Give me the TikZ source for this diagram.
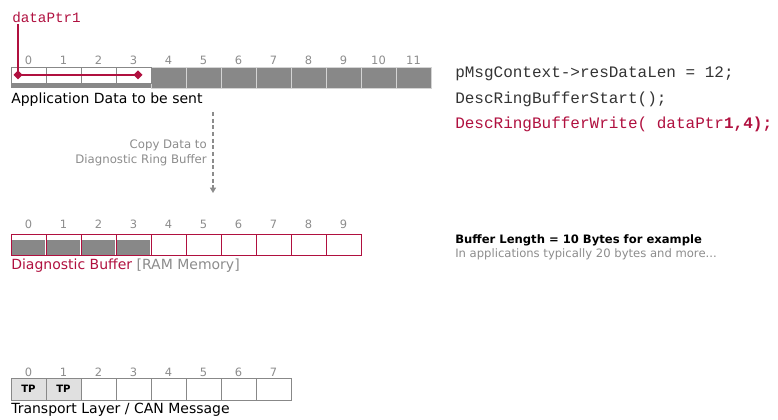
\documentclass[tikz,border=0pt]{standalone}
\usepackage{fontspec}
\setmainfont{DejaVu Sans}
\newfontfamily\codefont{Liberation Mono}
\usetikzlibrary{arrows.meta}
\definecolor{dred}{HTML}{B0103F}
\definecolor{txtgray}{HTML}{8C8C8C}
\definecolor{cellgray}{HTML}{888888}
\definecolor{sepgray}{HTML}{D4D4D4}
\definecolor{tpgray}{HTML}{E0E0E0}
\definecolor{codegray}{HTML}{333333}
\begin{document}
\begin{tikzpicture}[x=0.75pt,y=-0.75pt,
  num/.style={font=\fontsize{8.6}{9}\selectfont, text=txtgray, inner sep=0pt},
  cellbase/.style={rectangle, inner sep=0pt, outer sep=0pt, minimum width=26.25pt},
  gcell/.style={cellbase, minimum height=15.75pt, fill=cellgray, draw=sepgray, line width=0.6pt},
  wcell/.style={cellbase, minimum height=12pt, fill=white, draw=cellgray, line width=0.6pt},
  dcell/.style={cellbase, minimum height=15.75pt, fill=white, draw=dred, line width=0.75pt},
  tcell/.style={cellbase, minimum height=16.5pt, fill=white, draw=cellgray, line width=0.6pt, font=\bfseries\fontsize{7.6}{9}\selectfont},
  lbl/.style={font=\fontsize{10.5}{11}\selectfont, inner sep=0pt, anchor=west},
  code/.style={font=\codefont\fontsize{12}{13}\selectfont, inner sep=0pt, anchor=west},
  small/.style={font=\fontsize{8.7}{10}\selectfont, inner sep=0pt, anchor=west},
  ptr/.style={draw=dred, line width=1pt}
]
\useasboundingbox (0,0) rectangle (778,420);

% ---------- Application data row ----------
\fill[cellgray] (11,67) rectangle (151,88);
\foreach \i in {4,...,11} {
  \node[gcell] (t\i) at ({28.5+35*\i},77.5) {};
}
\foreach \i in {0,...,3} {
  \node[wcell] (t\i) at ({28.5+35*\i},75) {};
}
\foreach \i in {0,...,11} {
  \node[num] (tn\i) at ({28.5+35*\i},60) {\i};
}
\node[lbl] (applbl) at (11,100) {Application Data to be sent};

% data pointer
\node[font=\codefont\fontsize{10.7}{11}\selectfont, text=dred, inner sep=0pt, anchor=west] (ptr) at (12,17) {dataPtr1};
\coordinate (p0) at (18,75);
\coordinate (p1) at (138,75);
\coordinate (ptop) at (18,24);
\draw[ptr] (ptop) -- (p0) -- (p1);
\fill[dred] (p0) +(0,-4.5) -- +(4.5,0) -- +(0,4.5) -- +(-4.5,0) -- cycle;
\fill[dred] (p1) +(0,-4.5) -- +(4.5,0) -- +(0,4.5) -- +(-4.5,0) -- cycle;

% ---------- code ----------
\node[code, text=codegray] (c1) at (455,74) {pMsgContext->resDataLen = 12;};
\node[code, text=codegray] (c2) at (455,99) {DescRingBufferStart();};
\node[code, text=dred] (c3) at (455,124) {DescRingBufferWrite( dataPtr\textbf{1,4);}};

% ---------- copy arrow ----------
\coordinate (a0) at (213,112);
\coordinate (a1) at (213,193);
\draw[txtgray, line width=0.9pt, dash pattern=on 3pt off 2pt, -{Triangle[length=4pt,width=4.5pt]}] (a0) -- (a1);
\node[font=\fontsize{8.8}{11.25}\selectfont, text=txtgray, align=right, anchor=east, inner sep=0pt] (copytxt) at (207,153) {Copy Data to\\Diagnostic Ring Buffer};

% ---------- Diagnostic buffer ----------
\foreach \i in {0,...,9} {
  \node[dcell] (d\i) at ({28.5+35*\i},245.5) {};
  \node[num] (dn\i) at ({28.5+35*\i},224) {\i};
}
\foreach \i in {0,...,3} {
  \fill[cellgray] ({11.8+35*\i},240.5) rectangle ({45.2+35*\i},255.2);
}
\foreach \i in {1,...,4} {
  \draw[dred, line width=0.75pt] ({11+35*\i},235) -- ({11+35*\i},256);
}
\node[lbl] (diaglbl) at (11,266) {\textcolor{dred}{Diagnostic Buffer} \textcolor{txtgray}{[RAM Memory]}};

\node[small, font=\bfseries\fontsize{8.7}{10}\selectfont] (bl1) at (455,240) {Buffer Length = 10 Bytes for example};
\node[small, text=txtgray] (bl2) at (455,254) {In applications typically 20 bytes and more...};

% ---------- Transport layer ----------
\foreach \i in {0,...,7} {
  \node[num] (cn\i) at ({28.5+35*\i},372) {\i};
}
\foreach \i in {0,1} {
  \node[tcell, fill=tpgray] (c\i) at ({28.5+35*\i},389) {TP};
}
\foreach \i in {2,...,7} {
  \node[tcell] (c\i) at ({28.5+35*\i},389) {};
}
\node[lbl] (tplbl) at (11,410) {Transport Layer / CAN Message};
\end{tikzpicture}
\end{document}
